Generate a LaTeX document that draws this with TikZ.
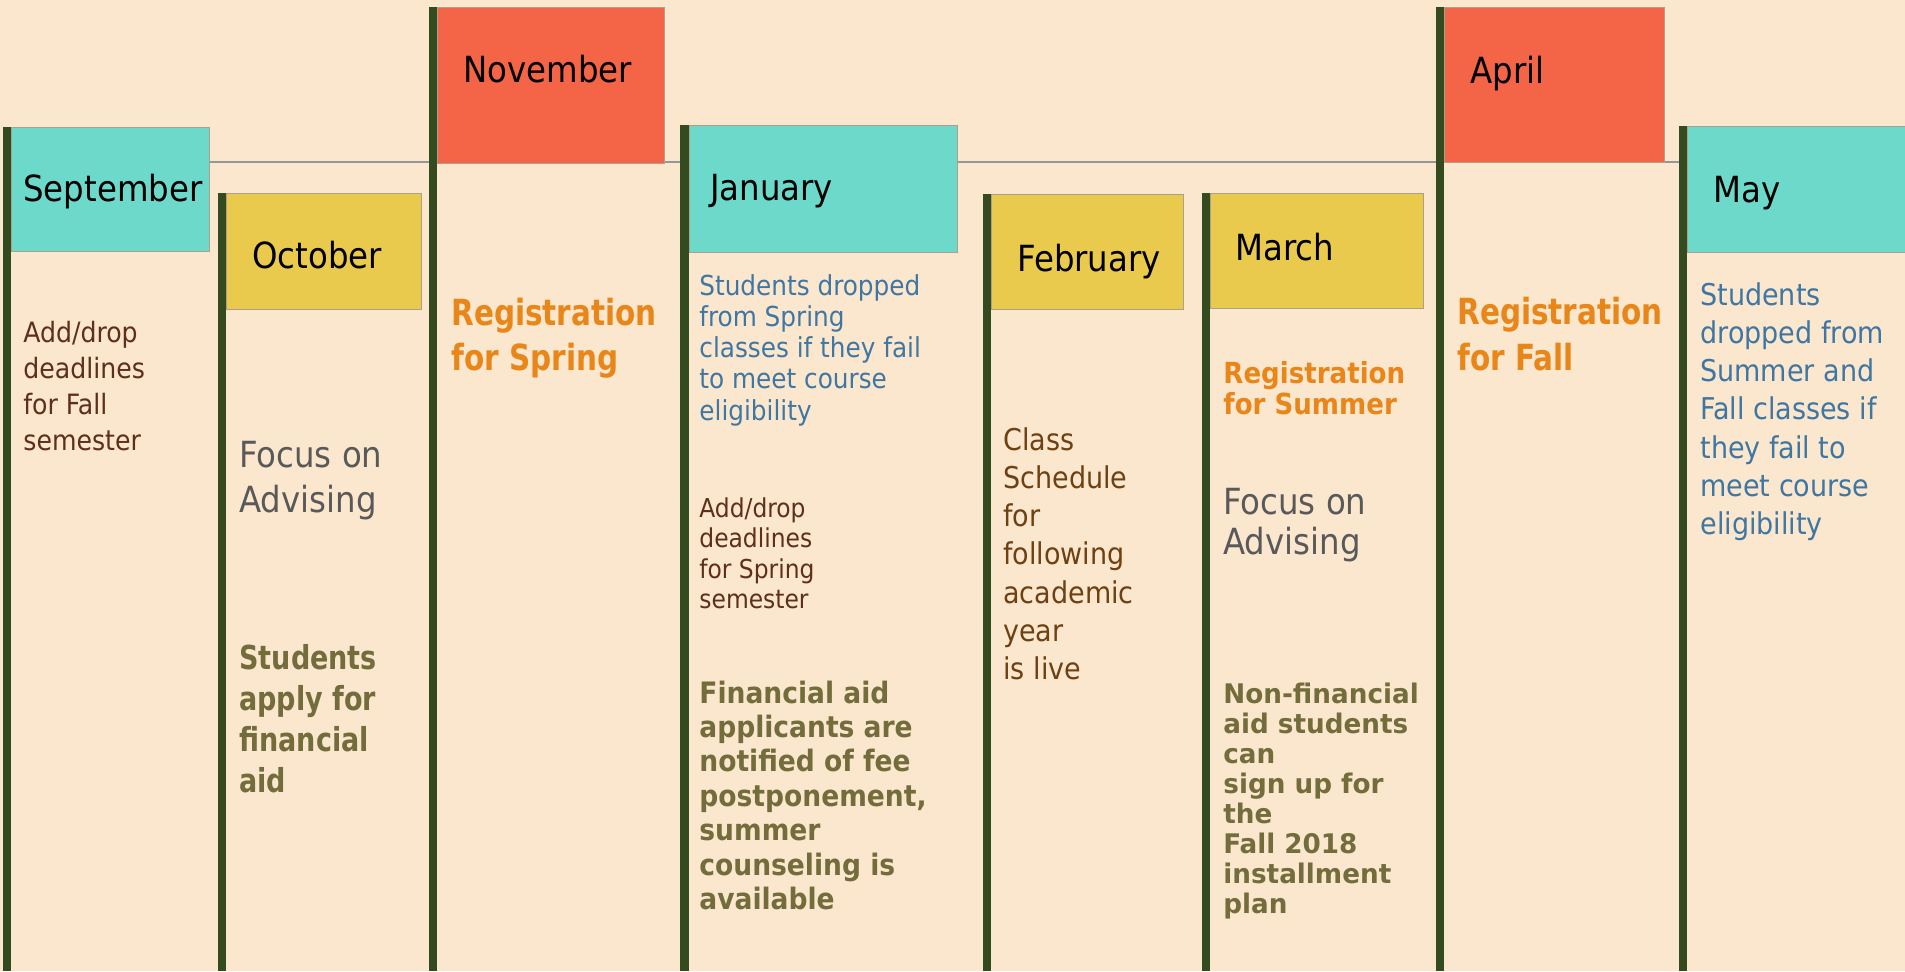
\documentclass[tikz,border=0pt]{standalone}
\usepackage{fontspec}
\setmainfont{DejaVu Sans Condensed}
\newfontfamily\narrowfont[FakeStretch=0.91]{DejaVu Sans Condensed}
\newfontfamily\wideboldfont[FakeStretch=1.08]{DejaVu Sans Condensed}
\usetikzlibrary{positioning}

\definecolor{paper}{RGB}{251,231,206}
\definecolor{poleGreen}{RGB}{52,75,32}
\definecolor{tealFlag}{RGB}{108,217,203}
\definecolor{yellowFlag}{RGB}{233,202,77}
\definecolor{redFlag}{RGB}{244,100,70}
\definecolor{flagEdge}{RGB}{170,160,140}
\definecolor{railGray}{RGB}{150,150,150}
\definecolor{darkBrown}{RGB}{94,47,28}
\definecolor{warmBrown}{RGB}{110,65,18}
\definecolor{slateGray}{RGB}{89,89,89}
\definecolor{oliveText}{RGB}{115,109,60}
\definecolor{orangeText}{RGB}{232,134,26}
\definecolor{blueText}{RGB}{63,118,162}

% lines of a note, with the first line on the node's base
\newcommand\textlines[1]{\begin{tabular}[t]{@{}l@{}}#1\end{tabular}}

\tikzset{
  pole/.style={fill=poleGreen},
  flag/.style={draw=flagEdge,line width=0.5pt,rectangle,inner sep=0,anchor=north west},
  month/.style={anchor=base west,inner sep=0,font=\fontsize{18}{21.6}\selectfont,text=black},
  note/.style={anchor=base west,inner sep=0}
}

\begin{document}
\begin{tikzpicture}[x=0.5pt,y=-0.5pt]
	\useasboundingbox (0,0) rectangle (1905,971);
	\fill[paper] (0,0) rectangle (1905,971);
	
	% rail behind the flags
	\coordinate (railstart) at (209,162);
	\coordinate (railend) at (1679,162);
	\draw[railGray,line width=0.9pt] (railstart) -- (railend);
	
	% poles
	\fill[pole] (3,127) rectangle (11,971);
	\fill[pole] (218,193) rectangle (226,971);
	\fill[pole] (429,7) rectangle (437,971);
	\fill[pole] (680,125) rectangle (689,971);
	\fill[pole] (983,194) rectangle (991,971);
	\fill[pole] (1202,193) rectangle (1210,971);
	\fill[pole] (1436,7) rectangle (1444,971);
	\fill[pole] (1679,126) rectangle (1687,971);
	
	% flags
	\node[flag,fill=tealFlag,minimum width=99pt,minimum height=62pt] (sepflag) at (11,127) {};
	\node[flag,fill=yellowFlag,minimum width=97.5pt,minimum height=58pt] (octflag) at (226,193) {};
	\node[flag,fill=redFlag,minimum width=113.5pt,minimum height=78pt] (novflag) at (437,7) {};
	\node[flag,fill=tealFlag,minimum width=134pt,minimum height=63.5pt] (janflag) at (689,125) {};
	\node[flag,fill=yellowFlag,minimum width=96pt,minimum height=57.5pt] (febflag) at (991,194) {};
	\node[flag,fill=yellowFlag,minimum width=106.5pt,minimum height=57.5pt] (marflag) at (1210,193) {};
	\node[flag,fill=redFlag,minimum width=110pt,minimum height=77.5pt] (aprflag) at (1444,7) {};
	\node[flag,fill=tealFlag,minimum width=110pt,minimum height=63pt] (mayflag) at (1687,126) {};
	
	% month names
	\node[month] (sep) at (23,201) {September};
	\node[month] (oct) at (252,268) {October};
	\node[month] (nov) at (463,82) {November};
	\node[month] (jan) at (710,200) {January};
	\node[month] (feb) at (1017,271) {February};
	\node[month] (mar) at (1235,260) {March};
	\node[month] (apr) at (1470,83) {April};
	\node[month] (may) at (1713,202) {May};
	
	% September
	\node[note,text=darkBrown,font=\fontsize{14}{18}\selectfont] (sepadd) at (23,342)
		{\textlines{Add/drop\\deadlines\\for Fall\\semester}};
	
	% October
	\node[note,text=slateGray,font=\fontsize{18}{22.5}\selectfont] (octfocus) at (239,467)
		{\textlines{Focus on\\Advising}};
	\node[note,text=oliveText,font=\narrowfont\bfseries\fontsize{16.5}{20.6}\selectfont] (octaid) at (239,669)
		{\textlines{Students\\apply for\\financial\\aid}};
	
	% November
	\node[note,text=orangeText,font=\narrowfont\bfseries\fontsize{18}{22.5}\selectfont] (novreg) at (451,325)
		{\textlines{Registration\\for Spring}};
	
	% January
	\node[note,text=blueText,font=\fontsize{13.75}{15.65}\selectfont] (jandrop) at (699,295)
		{\textlines{Students dropped\\from Spring\\classes if they fail\\to meet course\\eligibility}};
	\node[note,text=darkBrown,font=\fontsize{13}{15.25}\selectfont] (janadd) at (699,517)
		{\textlines{Add/drop\\deadlines\\for Spring\\semester}};
	\node[note,text=oliveText,font=\bfseries\fontsize{14.75}{17.2}\selectfont] (janaid) at (699,703)
		{\textlines{Financial aid\\applicants are\\notified of fee\\postponement,\\summer\\counseling is\\available}};
	
	% February
	\node[note,text=warmBrown,font=\fontsize{15}{19.15}\selectfont] (febclass) at (1003,450)
		{\textlines{Class\\Schedule\\for\\following\\academic\\year\\is live}};
	
	% March
	\node[note,text=orangeText,font=\bfseries\fontsize{14.5}{15}\selectfont] (marreg) at (1223,383)
		{\textlines{Registration\\for Summer}};
	\node[note,text=slateGray,font=\fontsize{18}{20}\selectfont] (marfocus) at (1223,514)
		{\textlines{Focus on\\Advising}};
	\node[note,text=oliveText,font=\wideboldfont\bfseries\fontsize{13.5}{15}\selectfont] (marplan) at (1223,703)
		{\textlines{Non-financial\\aid students\\can\\sign up for\\the\\Fall 2018\\installment\\plan}};
	
	% April
	\node[note,text=orangeText,font=\narrowfont\bfseries\fontsize{18}{23}\selectfont] (aprreg) at (1457,324)
		{\textlines{Registration\\for Fall}};
	
	% May
	\node[note,text=blueText,font=\fontsize{15}{19.15}\selectfont] (maydrop) at (1700,305)
		{\textlines{Students\\dropped from\\Summer and\\Fall classes if\\they fail to\\meet course\\eligibility}};
\end{tikzpicture}
\end{document}
